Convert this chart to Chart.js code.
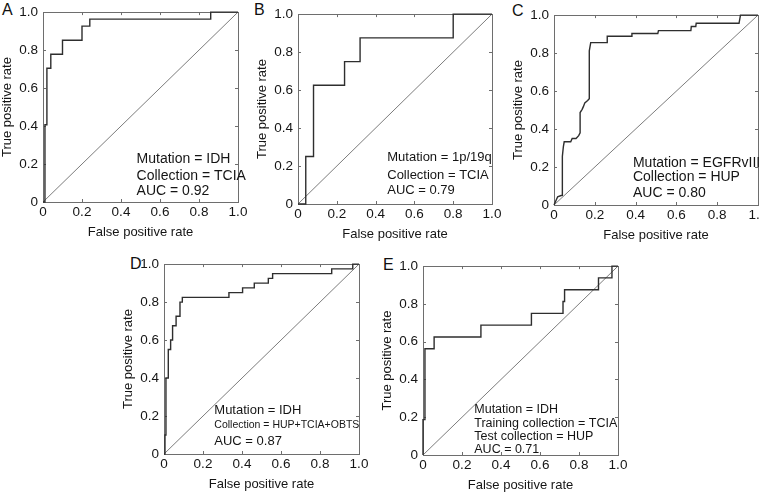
<!DOCTYPE html>
<html>
<head>
<meta charset="utf-8">
<script src="https://cdn.jsdelivr.net/npm/chart.js"></script>
<style>
  html, body { margin: 0; padding: 0; background: #fff; width: 760px; height: 492px; overflow: hidden; }
  .panel { position: absolute; }
  .letter { position: absolute; font: 16px "Liberation Sans", Arial, sans-serif; color: #111; line-height: 1; }
</style>
</head>
<body>
<div class="letter" style="left:2px;top:2px">A</div>
<div class="letter" style="left:254px;top:2px">B</div>
<div class="letter" style="left:512px;top:3px">C</div>
<div class="letter" style="left:130px;top:256px">D</div>
<div class="letter" style="left:383px;top:257px">E</div>

<script>
// tick values and labels shared by every panel
var tickValues = [0, 0.2, 0.4, 0.6, 0.8, 1.0];
var tickLabels = ['0', '0.2', '0.4', '0.6', '0.8', '1.0'];
var diagX = [0, 1];
var diagY = [0, 1];

// A: IDH, TCIA
var fprA = [0, 0.01, 0.01, 0.02, 0.02, 0.04, 0.04, 0.10, 0.10, 0.20, 0.20, 0.24, 0.24, 0.86, 0.86, 1];
var tprA = [0, 0, 0.407, 0.407, 0.704, 0.704, 0.778, 0.778, 0.852, 0.852, 0.926, 0.926, 0.963, 0.963, 1, 1];
var notesA = ['Mutation = IDH', 'Collection = TCIA', 'AUC = 0.92'];

// B: 1p/19q, TCIA
var fprB = [0, 0.04, 0.04, 0.08, 0.08, 0.24, 0.24, 0.32, 0.32, 0.80, 0.80, 1];
var tprB = [0, 0, 0.25, 0.25, 0.625, 0.625, 0.75, 0.75, 0.875, 0.875, 1, 1];
var notesB = ['Mutation = 1p/19q', 'Collection = TCIA', 'AUC = 0.79'];

// C: EGFRvIII, HUP
var fprC = [0, 0.018, 0.035, 0.041, 0.041, 0.046, 0.05, 0.082, 0.089, 0.108, 0.121, 0.128, 0.128, 0.138, 0.144, 0.151, 0.165, 0.173, 0.173, 0.18, 0.261, 0.261, 0.379, 0.382, 0.509, 0.512, 0.671, 0.673, 0.695, 0.697, 0.907, 0.914, 1];
var tprC = [0, 0.043, 0.05, 0.051, 0.256, 0.308, 0.333, 0.333, 0.35, 0.35, 0.365, 0.38, 0.487, 0.504, 0.518, 0.538, 0.55, 0.56, 0.812, 0.855, 0.855, 0.889, 0.889, 0.903, 0.903, 0.918, 0.918, 0.94, 0.94, 0.957, 0.957, 1, 1];
var notesC = ['Mutation = EGFRvIII', 'Collection = HUP', 'AUC = 0.80'];

// D: IDH, HUP+TCIA+OBTS
var fprD = [0, 0.005, 0.005, 0.01, 0.01, 0.022, 0.022, 0.034, 0.034, 0.044, 0.044, 0.062, 0.062, 0.082, 0.082, 0.094, 0.094, 0.333, 0.333, 0.403, 0.403, 0.463, 0.463, 0.535, 0.535, 0.557, 0.557, 0.86, 0.86, 0.968, 0.968, 1];
var tprD = [0, 0, 0.1, 0.1, 0.4, 0.4, 0.55, 0.55, 0.6, 0.6, 0.675, 0.675, 0.725, 0.725, 0.8, 0.8, 0.825, 0.825, 0.85, 0.85, 0.875, 0.875, 0.9, 0.9, 0.925, 0.925, 0.95, 0.95, 0.975, 0.975, 1, 1];
var notesD = ['Mutation = IDH', 'Collection = HUP+TCIA+OBTS', 'AUC = 0.87'];

// E: IDH, train TCIA / test HUP
var fprE = [0, 0, 0.01, 0.01, 0.057, 0.057, 0.297, 0.297, 0.556, 0.556, 0.718, 0.718, 0.726, 0.726, 0.90, 0.90, 0.969, 0.969, 1];
var tprE = [0, 0.1875, 0.1875, 0.5625, 0.5625, 0.625, 0.625, 0.6875, 0.6875, 0.75, 0.75, 0.8125, 0.8125, 0.875, 0.875, 0.9375, 0.9375, 1, 1];
var notesE = ['Mutation = IDH', 'Training collection = TCIA', 'Test collection = HUP', 'AUC = 0.71'];

var FONT = '"Liberation Sans", Arial, sans-serif';
var AXW = 43, AXH = 38, PADT = 8, PADR = 14;

// plot box in page pixels + where the text block sits (data units)
var panels = [
  { box: [43, 7, 238, 202], fpr: fprA, tpr: tprA, notes: notesA, nx: 0.48, ny: [0.226, 0.135, 0.056], nf: [14, 14, 14] },
  { box: [298, 9, 492, 204], fpr: fprB, tpr: tprB, notes: notesB, nx: 0.46, ny: [0.246, 0.15, 0.074], nf: [13, 13, 13] },
  { box: [554, 10, 758, 205], fpr: fprC, tpr: tprC, notes: notesC, nx: 0.387, ny: [0.222, 0.145, 0.06], nf: [14, 14, 14] },
  { box: [164, 259, 359, 454], fpr: fprD, tpr: tprD, notes: notesD, nx: 0.258, ny: [0.23, 0.15, 0.065], nf: [13, 10.5, 13] },
  { box: [423, 261, 618, 455], fpr: fprE, tpr: tprE, notes: notesE, nx: 0.263, ny: [0.241, 0.167, 0.099, 0.031], nf: [12.5, 12.5, 12.5, 12.5] }
];

function pts(xs, ys) {
  return xs.map(function (x, i) { return { x: x, y: ys[i] }; });
}

// frame, inward ticks and the text block
var framePlugin = {
  id: 'frame',
  beforeDatasetsDraw: function (chart) {
    var a = chart.chartArea, c = chart.ctx;
    var xs = chart.scales.x, ys = chart.scales.y;
    c.save();
    c.strokeStyle = '#6e6e6e';
    c.lineWidth = 1;
    c.strokeRect(Math.round(a.left) + 0.5, Math.round(a.top) + 0.5, Math.round(a.right - a.left), Math.round(a.bottom - a.top));
    c.beginPath();
    tickValues.forEach(function (v) {
      var px = Math.round(xs.getPixelForValue(v)) + 0.5;
      var py = Math.round(ys.getPixelForValue(v)) + 0.5;
      c.moveTo(px, a.bottom); c.lineTo(px, a.bottom - 3);
      c.moveTo(px, a.top); c.lineTo(px, a.top + 3);
      c.moveTo(a.left, py); c.lineTo(a.left + 3, py);
      c.moveTo(a.right, py); c.lineTo(a.right - 3, py);
    });
    c.stroke();
    c.restore();
  },
  afterDraw: function (chart) {
    var p = chart.options.plugins.frame, c = chart.ctx;
    c.save();
    c.fillStyle = '#151515';
    c.textAlign = 'left';
    c.textBaseline = 'middle';
    p.notes.forEach(function (t, i) {
      c.font = p.nf[i] + 'px ' + FONT;
      c.fillText(t, chart.scales.x.getPixelForValue(p.nx), chart.scales.y.getPixelForValue(p.ny[i]));
    });
    c.restore();
  }
};

function axis(title, horizontal) {
  return {
    type: 'linear', min: 0, max: 1,
    afterBuildTicks: function (s) { s.ticks = tickValues.map(function (v) { return { value: v }; }); },
    afterFit: function (s) { if (horizontal) s.height = AXH; else s.width = AXW; },
    grid: { display: false, drawTicks: false },
    border: { display: false },
    ticks: {
      padding: horizontal ? 2 : 5,
      color: '#151515',
      font: { family: FONT, size: 13.5 },
      callback: function (v) { return tickLabels[tickValues.indexOf(v)]; }
    },
    title: { display: true, text: title, padding: 0, color: '#151515', font: { family: FONT, size: 13 } }
  };
}

panels.forEach(function (p) {
  var l = p.box[0], t = p.box[1], r = p.box[2], b = p.box[3];
  var W = (r - l) + AXW + PADR, H = (b - t) + PADT + AXH;
  var div = document.createElement('div');
  div.className = 'panel';
  div.style.left = (l - AXW) + 'px';
  div.style.top = (t - PADT) + 'px';
  var cv = document.createElement('canvas');
  cv.width = W; cv.height = H;
  cv.style.width = W + 'px'; cv.style.height = H + 'px';
  div.appendChild(cv);
  document.body.appendChild(div);

  new Chart(cv, {
    type: 'scatter',
    data: {
      datasets: [
        { data: pts(p.fpr, p.tpr), showLine: true, borderColor: '#2e2e2e', borderWidth: 1.4, pointRadius: 0, tension: 0, clip: 4 },
        { data: pts(diagX, diagY), showLine: true, borderColor: '#5a5a5a', borderWidth: 0.8, pointRadius: 0, tension: 0 }
      ]
    },
    options: {
      responsive: false,
      animation: false,
      devicePixelRatio: 1,
      layout: { padding: { top: PADT, right: PADR, left: 0, bottom: 0 } },
      plugins: {
        legend: { display: false },
        tooltip: { enabled: false },
        frame: { notes: p.notes, nx: p.nx, ny: p.ny, nf: p.nf }
      },
      scales: {
        x: axis('False positive rate', true),
        y: axis('True positive rate', false)
      }
    },
    plugins: [framePlugin]
  });
});
</script>
</body>
</html>
